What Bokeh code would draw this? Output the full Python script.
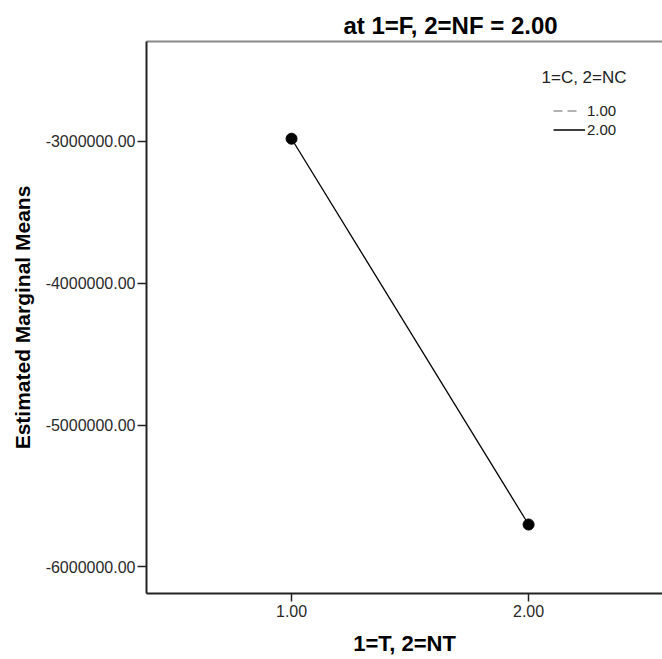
from bokeh.plotting import figure
from bokeh.models import (Range1d, FixedTicker, LinearAxis, Legend, LegendItem,
                          Label, ColumnDataSource, NumeralTickFormatter)
from bokeh.embed import file_html
from bokeh.resources import INLINE

NaN = float("nan")

# ---- data ----
x_levels = [1.0, 2.0]                      # 1=T, 2=NT
x_tick_values = [1.0, 2.0]
y_tick_values = [-6000000, -5000000, -4000000, -3000000]
means_c1 = [NaN, NaN]                      # 1=C, 2=NC = 1.00 (non-estimable, not drawn)
means_c2 = [-2983000, -5701000]            # 1=C, 2=NC = 2.00
legend_labels = ["1.00", "2.00"]
legend_title = "1=C, 2=NC"
chart_title = "at 1=F, 2=NF = 2.00"
x_title = "1=T, 2=NT"
y_title = "Estimated Marginal Means"

FONT = "Liberation Sans"

p = figure(width=662, height=659, output_backend="svg", toolbar_location=None,
           x_range=Range1d(0.388, 2.565), y_range=Range1d(-6187000, -2298000),
           min_border_left=146, min_border_right=0, min_border_top=41,
           min_border_bottom=66)
p.grid.visible = False
p.outline_line_color = None
p.background_fill_color = "white"
p.border_fill_color = "white"

src1 = ColumnDataSource(dict(x=x_levels, y=means_c1))
src2 = ColumnDataSource(dict(x=x_levels, y=means_c2))

r1 = p.line("x", "y", source=src1, line_color="#999999", line_width=1.5,
            line_dash="9 5 9 100")
r2 = p.line("x", "y", source=src2, line_color="black", line_width=1.3)
p.scatter("x", "y", source=src2, size=11, fill_color="black", line_color="black")

# axes
xa = p.xaxis[0]
xa.ticker = FixedTicker(ticks=x_tick_values)
xa.formatter = NumeralTickFormatter(format="0.00")
ya = p.yaxis[0]
ya.ticker = FixedTicker(ticks=y_tick_values)
ya.formatter = NumeralTickFormatter(format="0.00")
for ax in (xa, ya):
    ax.axis_line_color = "#222222"
    ax.axis_line_width = 2
    ax.major_tick_line_color = "#222222"
    ax.major_tick_line_width = 1.5
    ax.major_tick_in = 0
    ax.minor_tick_out = 0
    ax.minor_tick_in = 0
    ax.major_label_text_font = FONT
    ax.major_label_text_font_size = "16px"
    ax.major_label_text_color = "#2a2a2a"
    ax.axis_label_text_font = FONT
    ax.axis_label_text_font_style = "bold"
    ax.axis_label_text_color = "black"

xa.major_tick_out = 8
xa.major_label_standoff = 3
xa.axis_label = x_title
xa.axis_label_text_font_size = "22px"
xa.axis_label_standoff = 11

ya.major_tick_out = 9
ya.major_label_standoff = 2
ya.axis_label = y_title
ya.axis_label_text_font_size = "21px"
ya.axis_label_standoff = 9

top = LinearAxis(ticker=FixedTicker(ticks=[]), major_tick_out=0, major_tick_in=0,
                 minor_tick_out=0, minor_tick_in=0, axis_line_color="#888888",
                 axis_line_width=2, major_label_text_font_size="0px")
p.add_layout(top, "above")

# title
p.title.text = chart_title
p.title.text_font = FONT
p.title.text_font_size = "24px"
p.title.text_font_style = "bold"
p.title.text_color = "black"
p.title.align = "left"
p.title.offset = 197
p.title.standoff = 5

# legend
legend = Legend(items=[LegendItem(label=legend_labels[0], renderers=[r1]),
                       LegendItem(label=legend_labels[1], renderers=[r2])],
                location=(407, 455), border_line_color=None,
                background_fill_alpha=0, padding=0, margin=0, spacing=2,
                glyph_width=32, glyph_height=17, label_height=17,
                label_standoff=2, label_text_font=FONT,
                label_text_font_size="15px", label_text_color="#222222")
p.add_layout(legend)
p.add_layout(Label(x=395, y=516, x_units="screen", y_units="screen",
                   text=legend_title, text_font=FONT, text_font_size="17px",
                   text_baseline="middle", text_align="left",
                   text_color="#222222"))

open("out.html", "w").write(file_html(p, INLINE))
